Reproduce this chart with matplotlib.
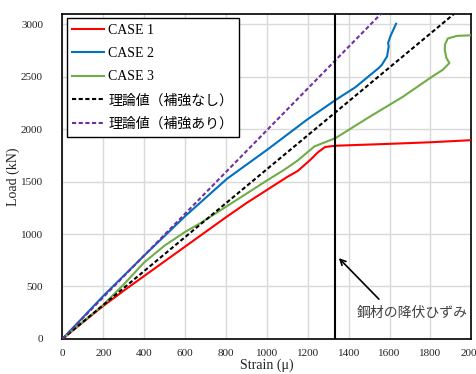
import matplotlib
matplotlib.use("Agg")
import matplotlib.pyplot as plt

# ---- data ----
case1_strain = [0, 200, 300, 400, 500, 600, 700, 800, 900, 1000, 1100, 1150, 1213, 1250, 1285, 1336, 1600, 1800, 2000]
case1_load   = [0, 315, 460, 600, 740, 880, 1020, 1160, 1295, 1420, 1545, 1600, 1708, 1780, 1830, 1842, 1860, 1875, 1895]

case2_strain = [0, 200, 400, 600, 805, 1001, 1196, 1335, 1433, 1547, 1563, 1588, 1596, 1593, 1604, 1632]
case2_load   = [0, 410, 795, 1170, 1527, 1803, 2090, 2277, 2400, 2583, 2615, 2694, 2790, 2822, 2885, 3005]

case3_strain = [0, 100, 200, 300, 400, 500, 600, 675, 800, 900, 1000, 1085, 1150, 1232, 1336, 1500, 1663, 1810, 1861, 1893, 1878, 1870, 1872, 1885, 1930, 2000]
case3_load   = [0, 162, 325, 520, 730, 890, 1020, 1104, 1260, 1385, 1510, 1613, 1700, 1835, 1915, 2115, 2306, 2503, 2567, 2631, 2680, 2760, 2810, 2865, 2890, 2895]

theory_none_strain = [0, 1916]
theory_none_load   = [0, 3100]
theory_rein_strain = [0, 1560]
theory_rein_load   = [0, 3104]

yield_strain = 1335
x_ticks = list(range(0, 2001, 200))
y_ticks = list(range(0, 3001, 500))

labels = ["CASE 1", "CASE 2", "CASE 3", "理論値（補強なし）", "理論値（補強あり）"]
annot_text = "鋼材の降伏ひずみ"

# ---- figure ----
fig = plt.figure(figsize=(4.77, 3.74), dpi=100)
ax = fig.add_axes([0.131, 0.094, 0.857, 0.869])

lw = 1.5
ax.plot(case1_strain, case1_load, color="#FF0000", lw=lw, label=labels[0], zorder=3)
ax.plot(case2_strain, case2_load, color="#0070C0", lw=lw, label=labels[1], zorder=3)
ax.plot(case3_strain, case3_load, color="#70AD47", lw=lw, label=labels[2], zorder=3)
ax.plot(theory_none_strain, theory_none_load, color="black", lw=lw, dashes=(2, 1.2), label=labels[3], zorder=3)
ax.plot(theory_rein_strain, theory_rein_load, color="#7030A0", lw=lw, dashes=(2, 1.2), label=labels[4], zorder=3)

ax.axvline(yield_strain, color="black", lw=1.5, zorder=4)

ax.set_xlim(0, 2000)
ax.set_ylim(0, 3100)
ax.set_xticks(x_ticks)
ax.set_yticks(y_ticks)
ax.grid(True, color="#d9d9d9", lw=1.0, zorder=0)
ax.set_axisbelow(True)
ax.tick_params(length=0, labelsize=8, colors="#222222")
ax.tick_params(axis="y", pad=14)
ax.tick_params(axis="x", pad=7)
for lab in ax.get_xticklabels() + ax.get_yticklabels():
    lab.set_fontfamily("Liberation Serif")
for sp in ax.spines.values():
    sp.set_color("black")
    sp.set_linewidth(1.2)

ax.set_xlabel("Strain (μ)", fontfamily="Liberation Serif", fontsize=10, labelpad=1, color="#222222")
ax.set_ylabel("Load (kN)", fontfamily="Liberation Serif", fontsize=10, labelpad=1, color="#222222")

leg = ax.legend(loc="upper left", prop={"family": ["Liberation Serif", "Noto Sans CJK JP"], "size": 10},
                frameon=True, fancybox=False, edgecolor="black", framealpha=1,
                borderaxespad=0.3, labelspacing=0.75, handlelength=2.3, handletextpad=0.3)
leg.get_frame().set_linewidth(1.0)

ax.annotate("", xy=(1352, 770), xytext=(1548, 379),
            arrowprops=dict(arrowstyle="->", color="black", lw=1.2, shrinkA=0, shrinkB=0))
ax.text(1713, 248, annot_text, fontfamily=["Noto Sans CJK JP", "DejaVu Sans"], fontsize=10,
        color="#404040", ha="center", va="center")

fig.savefig("out.png", dpi=100)
